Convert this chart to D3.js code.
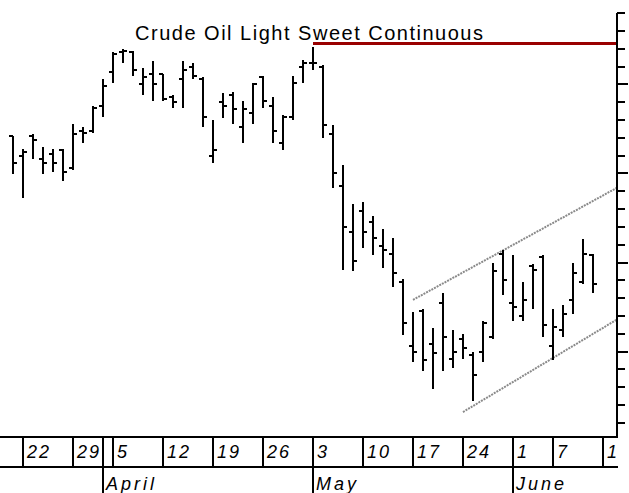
<!DOCTYPE html>
<html>
<head>
<meta charset="utf-8">
<script src="https://cdn.jsdelivr.net/npm/d3@7"></script>
<style>
    html, body { margin: 0; padding: 0; background: #fff; }
    svg { display: block; }
</style>
</head>
<body>
<div id="chart"></div>
<script>
'use strict';

// Daily OHLC, one entry per trading day (Mar 19 .. Jun 11)
var opens  = [18.21, 18.10, 18.21, 18.08, 18.11, 18.13, 18.03, 18.24, 18.24, 18.38,
              18.57, 18.68, 18.68, 18.50, 18.56, 18.56, 18.43, 18.53, 18.60, 18.53,
              18.10, 18.40, 18.44, 18.26, 18.34, 18.54, 18.38, 18.17, 18.32, 18.60,
              18.62, 18.60, 18.22, 17.93, 17.67, 17.79, 17.73, 17.59, 17.55, 17.39,
              17.03, 17.23, 17.04, 17.27, 16.96, 17.07, 16.98, 17.00, 17.08, 17.55,
              17.27, 17.20, 17.48, 17.53, 17.03, 17.12, 17.29, 17.39, 17.54];
var highs  = [18.21, 18.14, 18.22, 18.15, 18.14, 18.14, 18.28, 18.26, 18.38, 18.53,
              18.68, 18.70, 18.69, 18.59, 18.63, 18.56, 18.44, 18.63, 18.62, 18.54,
              18.30, 18.45, 18.46, 18.41, 18.51, 18.55, 18.43, 18.33, 18.55, 18.64,
              18.71, 18.61, 18.27, 18.05, 17.83, 17.84, 17.76, 17.69, 17.64, 17.41,
              17.22, 17.24, 17.13, 17.33, 17.12, 17.10, 17.00, 17.17, 17.50, 17.57,
              17.54, 17.39, 17.49, 17.54, 17.24, 17.26, 17.50, 17.63, 17.55];
var lows   = [18.00, 17.86, 18.08, 18.00, 18.01, 17.96, 18.02, 18.17, 18.23, 18.32,
              18.51, 18.62, 18.55, 18.44, 18.41, 18.41, 18.37, 18.37, 18.53, 18.26,
              18.06, 18.31, 18.28, 18.17, 18.28, 18.37, 18.17, 18.13, 18.30, 18.51,
              18.58, 18.20, 17.92, 17.46, 17.45, 17.58, 17.54, 17.47, 17.36, 17.09,
              16.94, 16.89, 16.79, 16.89, 16.91, 16.96, 16.72, 16.94, 17.07, 17.32,
              17.17, 17.17, 17.24, 17.08, 16.95, 17.08, 17.21, 17.38, 17.33];
var closes = [18.06, 18.12, 18.19, 18.06, 18.06, 18.01, 18.22, 18.23, 18.37, 18.49,
              18.67, 18.69, 18.58, 18.54, 18.50, 18.42, 18.40, 18.58, 18.55, 18.32,
              18.13, 18.38, 18.36, 18.36, 18.50, 18.41, 18.24, 18.32, 18.51, 18.62,
              18.62, 18.27, 18.00, 17.70, 17.51, 17.67, 17.64, 17.57, 17.44, 17.16,
              17.00, 16.95, 16.99, 17.08, 17.00, 17.02, 16.87, 17.16, 17.45, 17.40,
              17.25, 17.29, 17.46, 17.15, 17.14, 17.21, 17.44, 17.55, 17.38];

// Week starts on the date band: [day index, label]
var weekIdx    = [1, 6, 10, 15, 20, 25, 30, 35, 40, 45, 50, 54, 59];
var weekLabels = ["22", "29", "5", "12", "19", "26", "3", "10", "17", "24", "1", "7", "1"];

// Month starts
var monthIdx    = [9, 30, 50];
var monthLabels = ["April", "May", "June"];

// Drawn lines: [day index, price]
var resistance   = [[30, 18.73], [60.4, 18.73]];
var channelUpper = [[40, 17.29], [60.4, 17.92]];
var channelLower = [[45, 16.66], [60.4, 17.18]];

var title = "Crude Oil Light Sweet Continuous";

var WIDTH = 629;
var HEIGHT = 493;
var axisX = 617;
var bandTop = 437;
var bandBottom = 467;

var svg = d3.select("#chart")
    .append("svg")
    .attr("width", WIDTH)
    .attr("height", HEIGHT);

// Scales
var x = d3.scaleLinear().domain([0, 60.4]).range([13, axisX]);
var y = d3.scaleLinear().domain([16.6, 18.9]).range([422.7, 13.3]);

var bars = d3.range(opens.length).map(function (i) {
    return { i: i, o: opens[i], h: highs[i], l: lows[i], c: closes[i] };
});

// Title
svg.append("text")
    .attr("x", 135)
    .attr("y", 40)
    .attr("textLength", 348)
    .attr("lengthAdjust", "spacing")
    .style("font-family", "'Liberation Sans', Arial, sans-serif")
    .style("font-size", "20px")
    .style("fill", "#000")
    .text(title);

var line = d3.line()
    .x(function (d) { return x(d[0]); })
    .y(function (d) { return y(d[1]); });

// Channel lines
svg.selectAll(".channel")
    .data([channelUpper, channelLower])
    .enter().append("path")
    .attr("class", "channel")
    .attr("d", line)
    .style("fill", "none")
    .style("stroke", "#8a8a8a")
    .style("stroke-width", 2)
    .style("stroke-dasharray", "2,1");

// Resistance line
svg.append("path")
    .datum(resistance)
    .attr("d", line)
    .style("fill", "none")
    .style("stroke", "#990000")
    .style("stroke-width", 3);

// OHLC bars
var g = svg.append("g")
    .attr("shape-rendering", "crispEdges")
    .style("stroke", "#000")
    .style("stroke-width", 2);

var bar = g.selectAll(".bar")
    .data(bars)
    .enter().append("g")
    .attr("class", "bar");

bar.append("line")
    .attr("x1", function (d) { return Math.round(x(d.i)); })
    .attr("x2", function (d) { return Math.round(x(d.i)); })
    .attr("y1", function (d) { return y(d.h); })
    .attr("y2", function (d) { return y(d.l); });

bar.append("line")
    .attr("x1", function (d) { return Math.round(x(d.i)) - 4; })
    .attr("x2", function (d) { return Math.round(x(d.i)); })
    .attr("y1", function (d) { return Math.round(y(d.o)); })
    .attr("y2", function (d) { return Math.round(y(d.o)); });

bar.append("line")
    .attr("x1", function (d) { return Math.round(x(d.i)); })
    .attr("x2", function (d) { return Math.round(x(d.i)) + 4; })
    .attr("y1", function (d) { return Math.round(y(d.c)); })
    .attr("y2", function (d) { return Math.round(y(d.c)); });

// Right price axis (ticks only, no labels)
var axis = svg.append("g")
    .attr("shape-rendering", "crispEdges")
    .style("stroke", "#000")
    .style("stroke-width", 2);

axis.append("line")
    .attr("x1", axisX).attr("x2", axisX)
    .attr("y1", y(18.9)).attr("y2", bandTop);

var tickVals = d3.range(166, 190).map(function (v) { return v / 10; });
axis.selectAll(".tick")
    .data(tickVals)
    .enter().append("line")
    .attr("class", "tick")
    .attr("x1", axisX)
    .attr("x2", function (d) { return Math.round(d * 10) % 5 === 0 ? axisX + 11 : axisX + 8; })
    .attr("y1", function (d) { return Math.round(y(d)); })
    .attr("y2", function (d) { return Math.round(y(d)); });

// Date band
var band = svg.append("g");

var bandLines = band.append("g")
    .attr("shape-rendering", "crispEdges")
    .style("stroke", "#000")
    .style("stroke-width", 2);

bandLines.selectAll(".hline")
    .data([bandTop, bandBottom])
    .enter().append("line")
    .attr("x1", 0).attr("x2", axisX + 1)
    .attr("y1", function (d) { return d; })
    .attr("y2", function (d) { return d; });

bandLines.selectAll(".wsep")
    .data(weekIdx)
    .enter().append("line")
    .attr("x1", function (d) { return Math.round(x(d)); })
    .attr("x2", function (d) { return Math.round(x(d)); })
    .attr("y1", bandTop).attr("y2", bandBottom);

bandLines.selectAll(".msep")
    .data(monthIdx)
    .enter().append("line")
    .attr("x1", function (d) { return Math.round(x(d)); })
    .attr("x2", function (d) { return Math.round(x(d)); })
    .attr("y1", bandTop).attr("y2", HEIGHT);

band.selectAll(".wlabel")
    .data(weekIdx)
    .enter().append("text")
    .attr("x", function (d) { return Math.round(x(d)) + 4; })
    .attr("y", 458)
    .style("font-family", "'Liberation Sans', Arial, sans-serif")
    .style("font-style", "italic")
    .style("font-size", "18px")
    .style("letter-spacing", "2px")
    .text(function (d, i) { return weekLabels[i]; });

band.selectAll(".mlabel")
    .data(monthIdx)
    .enter().append("text")
    .attr("x", function (d) { return Math.round(x(d)) + 3; })
    .attr("y", 490)
    .style("font-family", "'Liberation Sans', Arial, sans-serif")
    .style("font-style", "italic")
    .style("font-size", "18px")
    .style("letter-spacing", "3px")
    .text(function (d, i) { return monthLabels[i]; });
</script>
</body>
</html>
